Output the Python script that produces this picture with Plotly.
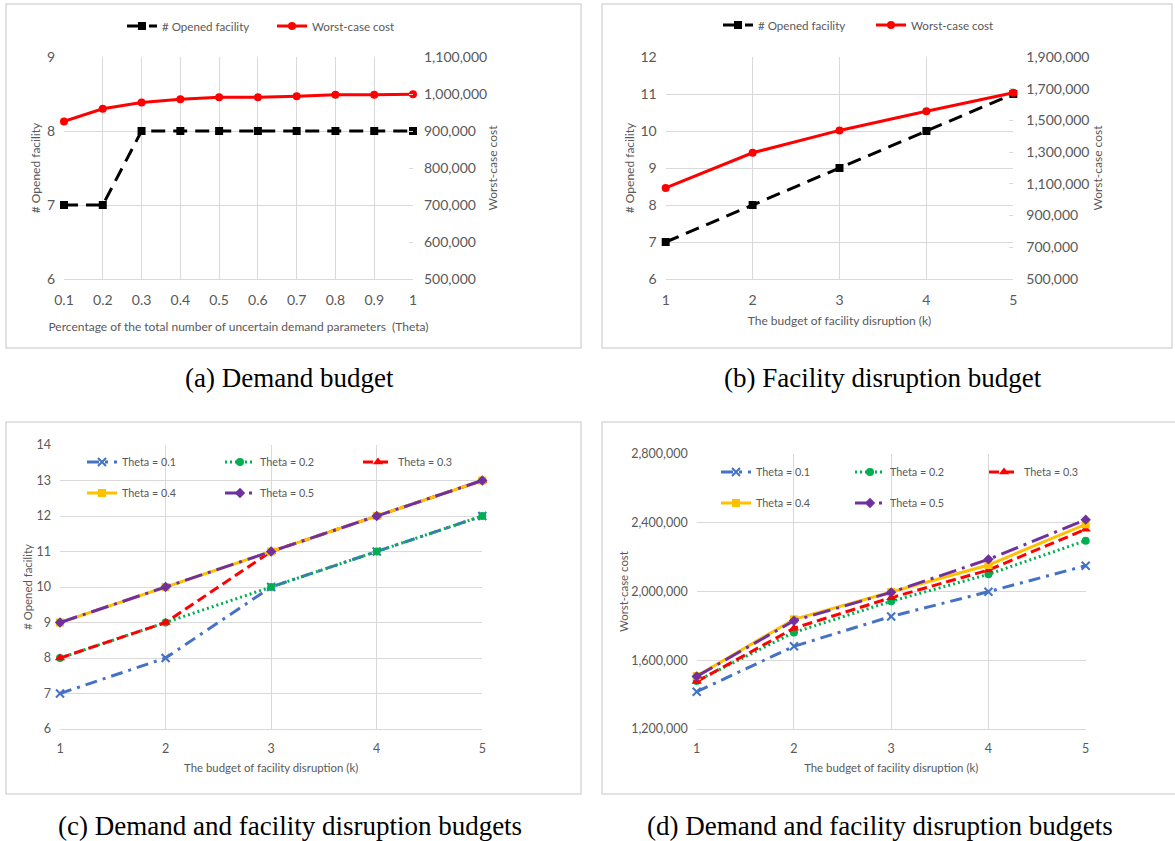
import plotly.graph_objects as go

W, H = 1175, 841

# ---------------- data ----------------
theta = [0.1, 0.2, 0.3, 0.4, 0.5, 0.6, 0.7, 0.8, 0.9, 1.0]
theta_labels = ["0.1", "0.2", "0.3", "0.4", "0.5", "0.6", "0.7", "0.8", "0.9", "1"]
a_facility = [7, 7, 8, 8, 8, 8, 8, 8, 8, 8]
a_cost = [926000, 960000, 977000, 986000, 991000, 991000, 994000, 998000, 998000, 999000]

k_vals = [1, 2, 3, 4, 5]
b_facility = [7, 8, 9, 10, 11]
b_cost = [1074000, 1296000, 1437000, 1558000, 1674000]

theta_names = ["Theta = 0.1", "Theta = 0.2", "Theta = 0.3", "Theta = 0.4", "Theta = 0.5"]
c_facility = [
    [7, 8, 10, 11, 12],
    [8, 9, 10, 11, 12],
    [8, 9, 11, 12, 13],
    [9, 10, 11, 12, 13],
    [9, 10, 11, 12, 13],
]
d_cost = [
    [1417000, 1681000, 1855000, 1999000, 2150000],
    [1479000, 1762000, 1943000, 2100000, 2296000],
    [1476000, 1786000, 1964000, 2125000, 2362000],
    [1508000, 1838000, 1997000, 2154000, 2391000],
    [1506000, 1830000, 1995000, 2187000, 2418000],
]

captions = ["(a) Demand budget", "(b) Facility disruption budget",
            "(c) Demand and facility disruption budgets",
            "(d) Demand and facility disruption budgets"]

# ---------------- styles ----------------
FONT = "Lato"
GRAY = "#595959"
GRID = "#d9d9d9"
theta_styles = [
    dict(color="#4472c4", dash="12px,6px,3px,6px", symbol="x-thin", size=8),
    dict(color="#00b050", dash="2px,3px", symbol="circle", size=8),
    dict(color="#ff0000", dash="10px,5px", symbol="triangle-up", size=9),
    dict(color="#ffc000", dash="solid", symbol="square", size=8),
    dict(color="#7030a0", dash="18px,6px,3px,6px", symbol="diamond", size=8),
]


def px_x(v):
    return v / W


def px_y(v):
    return 1 - v / H


fig = go.Figure()

# ---- panel (a)
fig.add_trace(go.Scatter(x=theta, y=a_facility, name="# Opened facility", mode="lines+markers",
                         line=dict(color="black", width=3, dash="14px,8px"),
                         marker=dict(symbol="square", size=8, color="black"),
                         xaxis="x", yaxis="y", legend="legend", cliponaxis=False))
fig.add_trace(go.Scatter(x=theta, y=a_cost, name="Worst-case cost", mode="lines+markers",
                         line=dict(color="#ff0000", width=3),
                         marker=dict(symbol="circle", size=8, color="#ff0000"),
                         xaxis="x", yaxis="y2", legend="legend", cliponaxis=False))
# ---- panel (b)
fig.add_trace(go.Scatter(x=k_vals, y=b_facility, name="# Opened facility", mode="lines+markers",
                         line=dict(color="black", width=3, dash="14px,8px"),
                         marker=dict(symbol="square", size=8, color="black"),
                         xaxis="x2", yaxis="y3", legend="legend2", cliponaxis=False))
fig.add_trace(go.Scatter(x=k_vals, y=b_cost, name="Worst-case cost", mode="lines+markers",
                         line=dict(color="#ff0000", width=3),
                         marker=dict(symbol="circle", size=8, color="#ff0000"),
                         xaxis="x2", yaxis="y4", legend="legend2", cliponaxis=False))

# ---- panels (c) and (d)
for i, name in enumerate(theta_names):
    st = theta_styles[i]
    mk = dict(symbol=st["symbol"], size=st["size"], color=st["color"])
    if st["symbol"] == "x-thin":
        mk["line"] = dict(color=st["color"], width=2)
    fig.add_trace(go.Scatter(x=k_vals, y=c_facility[i], name=name, mode="lines+markers",
                             line=dict(color=st["color"], width=3, dash=st["dash"]),
                             marker=mk, xaxis="x3", yaxis="y5",
                             legend="legend3" if i < 3 else "legend4", cliponaxis=False))
for i, name in enumerate(theta_names):
    st = theta_styles[i]
    mk = dict(symbol=st["symbol"], size=st["size"], color=st["color"])
    if st["symbol"] == "x-thin":
        mk["line"] = dict(color=st["color"], width=2)
    fig.add_trace(go.Scatter(x=k_vals, y=d_cost[i], name=name, mode="lines+markers",
                             line=dict(color=st["color"], width=3, dash=st["dash"]),
                             marker=mk, xaxis="x4", yaxis="y6",
                             legend="legend5" if i < 3 else "legend6", cliponaxis=False))

TOP_TICK, TOP_TITLE, TOP_LEG = 14, 12, 11.6
BOT_TICK, BOT_TITLE, BOT_LEG = 12.5, 11.4, 10.8


def f(size):
    return dict(family=FONT, size=size, color=GRAY)


def xax(domain, anchor, rng, tickvals, ticktext, title, tsize, tisize, standoff):
    return dict(domain=domain, anchor=anchor, range=rng, tickvals=tickvals, ticktext=ticktext,
                showgrid=True, gridcolor=GRID, gridwidth=1.3, showline=True, linecolor=GRID,
                linewidth=1.3, zeroline=False, ticks="", tickfont=f(tsize),
                ticklabelstandoff=8, automargin=False,
                title=dict(text=title, font=f(tisize), standoff=standoff))


def yax(domain, anchor, rng, dtick, title, tsize, tisize, standoff, fmt=None, tick0=None):
    d = dict(domain=domain, anchor=anchor, range=rng, dtick=dtick, showgrid=True, gridcolor=GRID,
             gridwidth=1.3, showline=False, zeroline=False, ticks="", tickfont=f(tsize),
             ticklabelstandoff=8, automargin=False,
             title=dict(text=title, font=f(tisize), standoff=standoff))
    if fmt:
        d["tickformat"] = fmt
    if tick0 is not None:
        d["tick0"] = tick0
    return d


def yright(anchor, overlay, rng, dtick, title, standoff, lstand):
    return dict(overlaying=overlay, anchor=anchor, side="right", range=rng, dtick=dtick,
                tick0=rng[0], showgrid=False, zeroline=False, showline=False, ticks="inside",
                ticklen=4, tickcolor=GRID, tickformat=",d", tickfont=f(TOP_TICK),
                ticklabelstandoff=lstand, automargin=False,
                title=dict(text=title, font=f(TOP_TITLE), standoff=standoff))


ya_dom = [px_y(279), px_y(57)]
yc_dom = [px_y(729), px_y(445)]
yd_dom = [px_y(729), px_y(454)]

k_text = [str(k) for k in k_vals]

legend_common = dict(orientation="h", xanchor="left", yanchor="middle", bgcolor="rgba(0,0,0,0)",
                     entrywidthmode="pixels", itemwidth=30, tracegroupgap=0)

fig.update_layout(
    width=W, height=H, autosize=False,
    margin=dict(l=0, r=0, t=0, b=0),
    paper_bgcolor="white", plot_bgcolor="white",
    font=dict(family=FONT, color=GRAY),
    xaxis=xax([px_x(64), px_x(413)], "y", [0.1, 1.0], theta, theta_labels,
              "Percentage of the total number of uncertain demand parameters  (Theta)",
              TOP_TICK, TOP_TITLE, 15),
    yaxis=yax(ya_dom, "x", [6, 9], 1, "# Opened facility", TOP_TICK, TOP_TITLE, 3),
    yaxis2=yright("x", "y", [500000, 1100000], 100000, "Worst-case cost", 2, 10),
    xaxis2=xax([px_x(665.7), px_x(1013.3)], "y3", [1, 5], k_vals, k_text,
               "The budget of facility disruption (k)", TOP_TICK, TOP_TITLE, 9),
    yaxis3=yax(ya_dom, "x2", [6, 12], 1, "# Opened facility", TOP_TICK, TOP_TITLE, 3),
    yaxis4=yright("x2", "y3", [500000, 1900000], 200000, "Worst-case cost", 0, 12),
    xaxis3=xax([px_x(60), px_x(482.3)], "y5", [1, 5], k_vals, k_text,
               "The budget of facility disruption (k)", BOT_TICK, BOT_TITLE, 8),
    yaxis5=yax(yc_dom, "x3", [6, 14], 1, "# Opened facility", BOT_TICK, BOT_TITLE, 1),
    xaxis4=xax([px_x(696.7), px_x(1085.7)], "y6", [1, 5], k_vals, k_text,
               "The budget of facility disruption (k)", BOT_TICK, BOT_TITLE, 8),
    yaxis6=yax(yd_dom, "x4", [1200000, 2800000], 400000, "Worst-case cost", BOT_TICK, BOT_TITLE, 0,
               fmt=",d", tick0=1200000),
    legend=dict(legend_common, x=px_x(122), y=px_y(26), entrywidth=105, font=f(TOP_LEG)),
    legend2=dict(legend_common, x=px_x(718), y=px_y(25), entrywidth=108, font=f(TOP_LEG)),
    legend3=dict(legend_common, x=px_x(82), y=px_y(462), entrywidth=93, font=f(BOT_LEG)),
    legend4=dict(legend_common, x=px_x(82), y=px_y(493), entrywidth=93, font=f(BOT_LEG)),
    legend5=dict(legend_common, x=px_x(716), y=px_y(472), entrywidth=89, font=f(BOT_LEG)),
    legend6=dict(legend_common, x=px_x(716), y=px_y(503), entrywidth=89, font=f(BOT_LEG)),
)

# panel borders
for (x0, x1, y0, y1) in [(6, 581, 4, 348), (602, 1172, 4, 348), (6, 581, 422, 794), (602, 1177, 422, 794)]:
    fig.add_shape(type="rect", xref="paper", yref="paper", x0=px_x(x0), x1=px_x(x1),
                  y0=px_y(y0), y1=px_y(y1), line=dict(color=GRID, width=1.5), layer="below")

# captions
for text, cx, cy in zip(captions, [289, 883, 290, 880], [378, 378, 826, 826]):
    fig.add_annotation(text=text, xref="paper", yref="paper", x=px_x(cx), y=px_y(cy),
                       xanchor="center", yanchor="middle", showarrow=False,
                       font=dict(family="Liberation Serif", size=27, color="black"))

fig.write_html("out.html")
